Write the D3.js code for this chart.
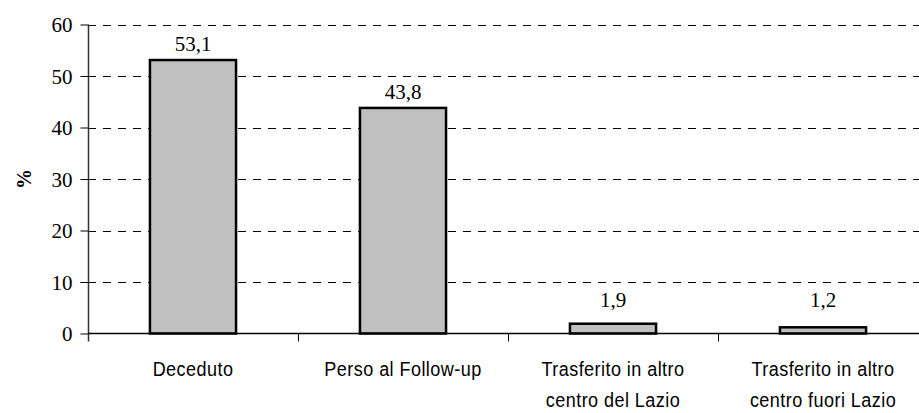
<!DOCTYPE html>
<html>
<head>
<meta charset="utf-8">
<script src="https://cdn.jsdelivr.net/npm/d3@7"></script>
<style>
  html, body { margin: 0; padding: 0; background: #fff; }
  svg { display: block; }
</style>
</head>
<body>
<svg id="chart" width="919" height="413"></svg>
<script>
// Outcome categories (each label may wrap onto two lines)
const categories = [
  ["Deceduto"],
  ["Perso al Follow-up"],
  ["Trasferito in altro", "centro del Lazio"],
  ["Trasferito in altro", "centro fuori Lazio"]
];
// Percentage per category
const values = [53.1, 43.8, 1.9, 1.2];
// Y axis ticks
const yTicks = [0, 10, 20, 30, 40, 50, 60];
const yTitle = "%";

const SERIF = '"Liberation Serif"';
const SANS = '"Liberation Sans"';

const svg = d3.select("#chart");
const margin = { left: 88, top: 24.5, bottom: 333.5, right: 928 };

const x = d3.scaleBand()
  .domain(d3.range(categories.length))
  .range([margin.left, margin.right])
  .paddingInner(0.59)
  .paddingOuter(0.295);

const y = d3.scaleLinear()
  .domain([0, 60])
  .range([margin.bottom, margin.top]);

// Dashed horizontal gridlines
svg.append("g")
  .selectAll("line")
  .data(yTicks.filter(d => d > 0))
  .join("line")
  .attr("x1", margin.left)
  .attr("x2", 919)
  .attr("y1", d => Math.round(y(d)) + 0.5)
  .attr("y2", d => Math.round(y(d)) + 0.5)
  .attr("stroke", "#000")
  .attr("stroke-width", 1)
  .attr("stroke-dasharray", "8,7");

// Bars
svg.append("g")
  .selectAll("rect")
  .data(values)
  .join("rect")
  .attr("x", (d, i) => x(i))
  .attr("width", x.bandwidth())
  .attr("y", d => y(d))
  .attr("height", d => y(0) - y(d))
  .attr("fill", "#c0c0c0")
  .attr("stroke", "#000")
  .attr("stroke-width", 2.5);

// Y axis
const yAxis = d3.axisLeft(y)
  .tickValues(yTicks)
  .tickSize(8)
  .tickPadding(8)
  .tickFormat(d3.format("d"));
const gy = svg.append("g")
  .attr("transform", `translate(${margin.left + 0.5},0)`)
  .call(yAxis);
gy.select(".domain").remove();
gy.append("line")
  .attr("x1", 0).attr("x2", 0)
  .attr("y1", margin.top).attr("y2", y(0) + 8)
  .attr("stroke", "#333")
  .attr("stroke-width", 1.5);
gy.selectAll(".tick line").attr("stroke", "#000");
gy.selectAll(".tick text")
  .style("font-family", SERIF)
  .style("font-size", "21px")
  .attr("fill", "#000")
  .attr("dy", "0.34em");

// X axis baseline and category separators
const xEdges = d3.range(categories.length + 1).map(i => margin.left + i * x.step());
svg.append("line")
  .attr("x1", margin.left).attr("x2", 919)
  .attr("y1", y(0)).attr("y2", y(0))
  .attr("stroke", "#000")
  .attr("stroke-width", 1.3);
svg.append("g")
  .selectAll("line")
  .data(xEdges.slice(1))
  .join("line")
  .attr("x1", d => Math.round(d) + 0.5)
  .attr("x2", d => Math.round(d) + 0.5)
  .attr("y1", y(0))
  .attr("y2", y(0) + 8)
  .attr("stroke", "#000");

// Category labels, horizontally condensed
svg.append("g")
  .selectAll("text")
  .data(categories)
  .join("text")
  .attr("transform", (d, i) => `translate(${x(i) + x.bandwidth() / 2},376) scale(0.86,1)`)
  .attr("text-anchor", "middle")
  .style("font-family", SANS)
  .style("font-size", "21px")
  .style("letter-spacing", "0.5px")
  .attr("fill", "#000")
  .each(function (lines) {
    const t = d3.select(this);
    lines.forEach((line, k) => {
      t.append("tspan")
        .attr("x", 0)
        .attr("dy", k === 0 ? 0 : 31)
        .text(line);
    });
  });

// Value labels above bars
const fmt = v => d3.format(".1f")(v).replace(".", ",");
svg.append("g")
  .selectAll("text")
  .data(values)
  .join("text")
  .attr("x", (d, i) => x(i) + x.bandwidth() / 2)
  .attr("y", d => Math.min(y(d) - 9, y(0) - 27))
  .attr("text-anchor", "middle")
  .style("font-family", SERIF)
  .style("font-size", "21px")
  .attr("fill", "#000")
  .text(fmt);

// Y axis title
svg.append("text")
  .attr("transform", `translate(31,${(y(0) + y(60)) / 2}) rotate(-90)`)
  .attr("text-anchor", "middle")
  .style("font-family", SERIF)
  .style("font-weight", "bold")
  .style("font-size", "20px")
  .attr("fill", "#000")
  .text(yTitle);
</script>
</body>
</html>
